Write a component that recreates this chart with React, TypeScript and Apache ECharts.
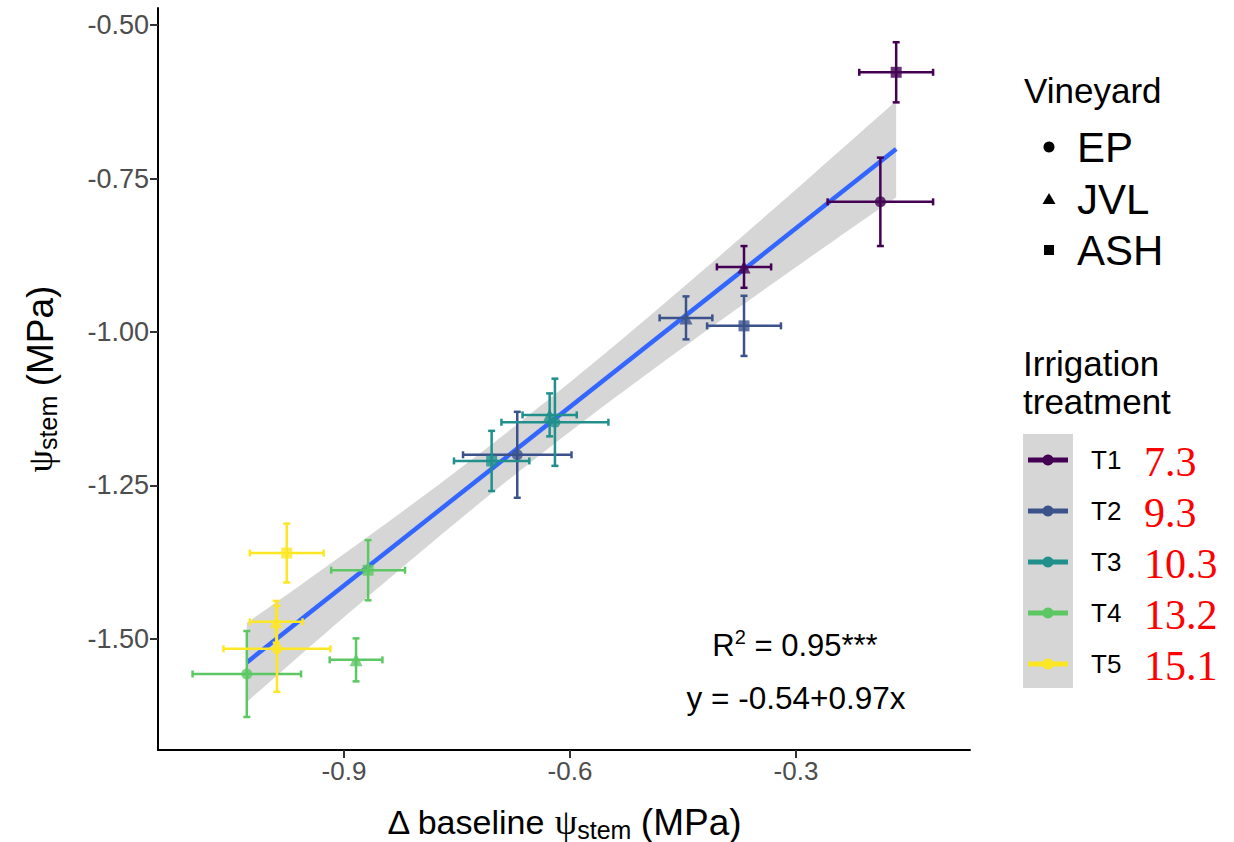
import React, { useEffect, useRef } from 'react';
import * as echarts from 'echarts';

// Treatments and irrigation amounts
const treatments = ['T1', 'T2', 'T3', 'T4', 'T5'];
const irrigationAmounts = ['7.3', '9.3', '10.3', '13.2', '15.1'];
const vineyards = ['EP', 'JVL', 'ASH'];

// Vineyard EP: mean Δ baseline ψstem (x), mean ψstem (y) and their errors, by treatment
const epX = [-0.188, -0.670, -0.620, -1.029, -0.989];
const epY = [-0.788, -1.200, -1.147, -1.557, -1.516];
const epXErr = [0.070, 0.072, 0.071, 0.072, 0.071];
const epYErr = [0.072, 0.070, 0.071, 0.070, 0.070];

// Vineyard JVL
const jvlX = [-0.369, -0.446, -0.627, -0.884, -0.990];
const jvlY = [-0.894, -0.977, -1.135, -1.534, -1.472];
const jvlXErr = [0.036, 0.035, 0.036, 0.035, 0.035];
const jvlYErr = [0.034, 0.035, 0.035, 0.035, 0.034];

// Vineyard ASH
const ashX = [-0.167, -0.369, -0.704, -0.868, -0.976];
const ashY = [-0.577, -0.990, -1.210, -1.388, -1.360];
const ashXErr = [0.049, 0.049, 0.050, 0.049, 0.049];
const ashYErr = [0.049, 0.049, 0.049, 0.049, 0.048];

// Linear fit y = a + b x and its 95 % confidence band (t, df = 13)
const fitIntercept = -0.54;
const fitSlope = 0.97;
const tCrit = 2.16;

// Axis ticks
const xTicks = [-0.9, -0.6, -0.3];
const yTicks = [-0.5, -0.75, -1.0, -1.25, -1.5];

const treatmentColors = ['#440154', '#3B528B', '#21908C', '#5DC863', '#FDE725'];
const SANS = '"Liberation Sans", Arial, Helvetica, sans-serif';
const SERIF = '"Liberation Serif", "Times New Roman", serif';

const byVineyard: Record<string, { x: number[]; y: number[]; ex: number[]; ey: number[]; symbol: string; size: number }> = {
  EP: { x: epX, y: epY, ex: epXErr, ey: epYErr, symbol: 'circle', size: 11 },
  JVL: { x: jvlX, y: jvlY, ex: jvlXErr, ey: jvlYErr, symbol: 'triangle', size: 13 },
  ASH: { x: ashX, y: ashY, ex: ashXErr, ey: ashYErr, symbol: 'rect', size: 11 },
};

function buildOption() {
  const allX: number[] = [];
  const allY: number[] = [];
  vineyards.forEach((v) => {
    allX.push(...byVineyard[v].x);
    allY.push(...byVineyard[v].y);
  });
  const n = allX.length;
  const xbar = allX.reduce((s, v) => s + v, 0) / n;
  const sxx = allX.reduce((s, v) => s + (v - xbar) * (v - xbar), 0);
  const sse = allX.reduce((s, v, i) => {
    const r = allY[i] - (fitIntercept + fitSlope * v);
    return s + r * r;
  }, 0);
  const sRes = Math.sqrt(sse / (n - 2));
  const xMin = Math.min(...allX);
  const xMax = Math.max(...allX);

  const steps = 60;
  const band: number[][] = [];
  for (let k = 0; k <= steps; k++) {
    const x = xMin + ((xMax - xMin) * k) / steps;
    const fit = fitIntercept + fitSlope * x;
    const half = tCrit * sRes * Math.sqrt(1 / n + ((x - xbar) * (x - xbar)) / sxx);
    band.push([x, fit - half, fit + half]);
  }
  const fitLine = [
    [xMin, fitIntercept + fitSlope * xMin],
    [xMax, fitIntercept + fitSlope * xMax],
  ];

  const errData: number[][] = [];
  vineyards.forEach((v) => {
    const d = byVineyard[v];
    treatments.forEach((_, i) => errData.push([d.x[i], d.y[i], d.ex[i], d.ey[i], i]));
  });

  const scatterSeries = vineyards.map((v) => {
    const d = byVineyard[v];
    return {
      type: 'scatter',
      name: v,
      symbol: d.symbol,
      symbolSize: d.size,
      z: 5,
      data: treatments.map((_, i) => ({
        value: [d.x[i], d.y[i]],
        itemStyle: { color: treatmentColors[i] },
      })),
    };
  });

  const legendGraphics: any[] = [];
  // Vineyard legend
  legendGraphics.push({
    type: 'text', x: 1024, y: 90,
    style: { text: 'Vineyard', fontSize: 35, fontFamily: SANS, fill: '#000', align: 'left', verticalAlign: 'middle' },
  });
  const vyRows = [147, 199, 250];
  vineyards.forEach((v, i) => {
    const cy = vyRows[i];
    if (i === 0) legendGraphics.push({ type: 'circle', shape: { cx: 1049, cy, r: 5.5 }, style: { fill: '#000' } });
    if (i === 1) legendGraphics.push({ type: 'polygon', shape: { points: [[1049, cy - 6], [1055.5, cy + 5], [1042.5, cy + 5]] }, style: { fill: '#000' } });
    if (i === 2) legendGraphics.push({ type: 'rect', shape: { x: 1044, y: cy - 5, width: 10, height: 10 }, style: { fill: '#000' } });
    legendGraphics.push({
      type: 'text', x: 1077, y: cy,
      style: { text: v, fontSize: 42, fontFamily: SANS, fill: '#000', align: 'left', verticalAlign: 'middle' },
    });
  });
  // Irrigation legend
  legendGraphics.push({
    type: 'text', x: 1023, y: 363,
    style: { text: 'Irrigation', fontSize: 35, fontFamily: SANS, fill: '#000', align: 'left', verticalAlign: 'middle' },
  });
  legendGraphics.push({
    type: 'text', x: 1023, y: 401,
    style: { text: 'treatment', fontSize: 35, fontFamily: SANS, fill: '#000', align: 'left', verticalAlign: 'middle' },
  });
  legendGraphics.push({ type: 'rect', shape: { x: 1023, y: 434, width: 50, height: 254 }, style: { fill: '#D6D6D6' } });
  const trRows = [460, 511, 562, 613, 664];
  treatments.forEach((t, i) => {
    const cy = trRows[i];
    legendGraphics.push({ type: 'line', shape: { x1: 1028, y1: cy, x2: 1068, y2: cy }, style: { stroke: treatmentColors[i], lineWidth: 5 } });
    legendGraphics.push({ type: 'circle', shape: { cx: 1048, cy, r: 5.5 }, style: { fill: treatmentColors[i] } });
    legendGraphics.push({
      type: 'text', x: 1091, y: cy,
      style: { text: t, fontSize: 26, fontFamily: SANS, fill: '#000', align: 'left', verticalAlign: 'middle' },
    });
    legendGraphics.push({
      type: 'text', x: 1144, y: cy + 2,
      style: { text: irrigationAmounts[i], fontSize: 42, fontFamily: SERIF, fill: '#FF0000', align: 'left', verticalAlign: 'middle' },
    });
  });

  // Axis titles and fit annotation
  const titleRich = {
    a: { fontSize: 34, fontFamily: SANS, fill: '#000', lineHeight: 40, verticalAlign: 'middle' },
    psi: { fontSize: 36, fontFamily: SERIF, fill: '#000', lineHeight: 40, verticalAlign: 'middle' },
    sub: { fontSize: 25, fontFamily: SANS, fill: '#000', lineHeight: 12, verticalAlign: 'bottom' },
    par: { fontSize: 37, fontFamily: SANS, fill: '#000', lineHeight: 40, verticalAlign: 'middle' },
  };
  const textGraphics: any[] = [
    {
      type: 'text', x: 564, y: 822,
      style: {
        text: '{a|Δ baseline }{psi|ψ}{sub|stem}{a| }{par|(MPa)}',
        rich: titleRich, align: 'center', verticalAlign: 'middle',
      },
    },
    {
      type: 'text', x: 40, y: 379, rotation: Math.PI / 2,
      style: {
        text: '{psi|ψ}{sub|stem}{a| }{par|(MPa)}',
        rich: titleRich, align: 'center', verticalAlign: 'middle',
      },
    },
    {
      type: 'text', x: 795, y: 645,
      style: {
        text: '{a|R}{sup|2}{a| = 0.95***}',
        rich: {
          a: { fontSize: 31, fontFamily: SANS, fill: '#000', lineHeight: 36, verticalAlign: 'middle' },
          sup: { fontSize: 20, fontFamily: SANS, fill: '#000', lineHeight: 12, verticalAlign: 'top' },
        },
        align: 'center', verticalAlign: 'middle',
      },
    },
    {
      type: 'text', x: 796, y: 698,
      style: {
        text: 'y = -0.54+0.97x', fontSize: 31.5, fontFamily: SANS, fill: '#000',
        align: 'center', verticalAlign: 'middle',
      },
    },
  ];

  return {
    animation: false,
    backgroundColor: '#ffffff',
    grid: { left: 158, top: 8, width: 812, height: 742, containLabel: false },
    xAxis: {
      type: 'value',
      min: -1.1469,
      max: -0.069,
      splitLine: { show: false },
      axisLine: { show: true, onZero: false, lineStyle: { color: '#000', width: 2 } },
      axisTick: { show: true, length: 8, customValues: xTicks, lineStyle: { color: '#333', width: 2 } },
      axisLabel: {
        customValues: xTicks, margin: 8, fontSize: 26, fontFamily: SANS, color: '#4D4D4D',
        formatter: (v: number) => v.toFixed(1),
      },
    },
    yAxis: {
      type: 'value',
      min: -1.6808,
      max: -0.4723,
      splitLine: { show: false },
      axisLine: { show: true, onZero: false, lineStyle: { color: '#000', width: 2 } },
      axisTick: { show: true, length: 8, customValues: yTicks, lineStyle: { color: '#333', width: 2 } },
      axisLabel: {
        customValues: yTicks, margin: 9, fontSize: 27, fontFamily: SANS, color: '#4D4D4D',
        formatter: (v: number) => v.toFixed(2),
      },
    },
    series: [
      {
        type: 'custom',
        name: 'band',
        z: 1,
        silent: true,
        data: band,
        encode: { x: 0, y: [1, 2] },
        renderItem: (params: any, api: any) => {
          if (params.dataIndex !== 0) return null;
          const upper = band.map((p) => api.coord([p[0], p[2]]));
          const lower = band.map((p) => api.coord([p[0], p[1]])).reverse();
          return { type: 'polygon', shape: { points: upper.concat(lower) }, style: { fill: '#D6D6D6' } };
        },
      },
      {
        type: 'line',
        name: 'fit',
        z: 2,
        data: fitLine,
        symbol: 'none',
        lineStyle: { color: '#3366FF', width: 4.5 },
      },
      {
        type: 'custom',
        name: 'errors',
        z: 3,
        data: errData,
        encode: { x: 0, y: 1 },
        renderItem: (params: any, api: any) => {
          const x = api.value(0);
          const y = api.value(1);
          const ex = api.value(2);
          const ey = api.value(3);
          const color = treatmentColors[api.value(4)];
          const l = api.coord([x - ex, y]);
          const r = api.coord([x + ex, y]);
          const t = api.coord([x, y + ey]);
          const b = api.coord([x, y - ey]);
          const cap = 3.5;
          const st = { stroke: color, lineWidth: 2.5 };
          const ln = (x1: number, y1: number, x2: number, y2: number) => ({ type: 'line', shape: { x1, y1, x2, y2 }, style: st });
          return {
            type: 'group',
            children: [
              ln(l[0], l[1], r[0], r[1]),
              ln(l[0], l[1] - cap, l[0], l[1] + cap),
              ln(r[0], r[1] - cap, r[0], r[1] + cap),
              ln(t[0], t[1], b[0], b[1]),
              ln(t[0] - cap, t[1], t[0] + cap, t[1]),
              ln(b[0] - cap, b[1], b[0] + cap, b[1]),
            ],
          };
        },
      },
      ...scatterSeries,
    ],
    graphic: [...legendGraphics, ...textGraphics],
  };
}

export default function App() {
  const ref = useRef<HTMLDivElement>(null);
  useEffect(() => {
    if (!ref.current) return;
    const chart = echarts.init(ref.current, null, { renderer: 'svg' });
    chart.setOption(buildOption() as any);
    return () => chart.dispose();
  }, []);
  return (
    <div
      ref={ref}
      style={{ position: 'absolute', left: 0, top: 0, width: 1234, height: 842, background: '#fff' }}
    />
  );
}
